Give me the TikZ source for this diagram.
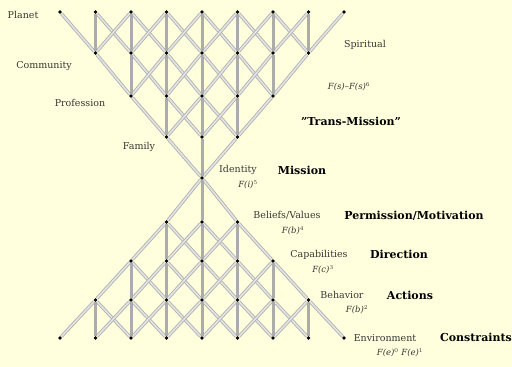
\documentclass[tikz,border=0pt]{standalone}
\usepackage{fontspec}
\setmainfont{DejaVu Serif}
\pgfdeclarelayer{back}
\pgfdeclarelayer{bg}
\pgfsetlayers{back,bg,main}
\definecolor{paper}{RGB}{255,255,221}
\definecolor{labelgray}{RGB}{55,55,55}
\tikzset{
  dot/.style={circle,fill=black,inner sep=0pt,minimum size=3.8pt},
  diag/.style={draw=gray!60,double=gray!20,double distance=1.5pt,line width=0.9pt},
  vert/.style={draw=gray!65,line width=3pt},
  lvl/.style={font=\fontsize{9.5}{11}\selectfont,text=labelgray,inner sep=0pt},
  frm/.style={font=\fontsize{8.5}{10}\itshape,text=labelgray,inner sep=0pt},
  role/.style={font=\fontsize{11}{13}\bfseries,text=black,inner sep=0pt}
}
\begin{document}
\begin{tikzpicture}[x=1pt,y=-1pt]
\begin{pgfonlayer}{back}
\fill[paper] (0,0) rectangle (512,367);
\end{pgfonlayer}
\useasboundingbox (0,0) rectangle (512,367);
% top (inverted) lattice
\foreach \r/\y in {0/12,1/53,2/96,3/137} {
  \pgfmathtruncatemacro\cmax{8-\r}
  \foreach \c in {\r,...,\cmax} {
    \node[dot] (t-\r-\c) at ({60+35.5*\c},\y) {};
  }
}
\node[dot,alias=b-0-4] (t-4-4) at (202,178) {};
% bottom lattice
\foreach \s/\y in {1/222,2/261,3/300,4/338} {
  \pgfmathtruncatemacro\cmin{4-\s}
  \pgfmathtruncatemacro\cmax{4+\s}
  \foreach \c in {\cmin,...,\cmax} {
    \node[dot] (b-\s-\c) at ({60+35.5*\c},\y) {};
  }
}
\begin{pgfonlayer}{bg}
% top diagonals
\foreach \r in {0,...,3} {
  \pgfmathtruncatemacro\cmax{8-\r}
  \pgfmathtruncatemacro\n{\r+1}
  \pgfmathtruncatemacro\nmax{7-\r}
  \foreach \c in {\r,...,\cmax} {
    \pgfmathtruncatemacro\cl{\c-1}
    \pgfmathtruncatemacro\cr{\c+1}
    \ifnum\cl<\n\else \draw[diag] (t-\r-\c) -- (t-\n-\cl); \fi
    \ifnum\cr>\nmax\else \draw[diag] (t-\r-\c) -- (t-\n-\cr); \fi
  }
}
% bottom diagonals
\foreach \s in {0,...,3} {
  \pgfmathtruncatemacro\cmin{4-\s}
  \pgfmathtruncatemacro\cmax{4+\s}
  \pgfmathtruncatemacro\n{\s+1}
  \foreach \c in {\cmin,...,\cmax} {
    \pgfmathtruncatemacro\cl{\c-1}
    \pgfmathtruncatemacro\cr{\c+1}
    \draw[diag] (b-\s-\c) -- (b-\n-\cl);
    \draw[diag] (b-\s-\c) -- (b-\n-\cr);
  }
}
% top verticals
\foreach \r in {0,...,3} {
  \pgfmathtruncatemacro\n{\r+1}
  \pgfmathtruncatemacro\nmax{7-\r}
  \foreach \c in {\n,...,\nmax} {
    \draw[vert] (t-\r-\c) -- (t-\n-\c);
  }
}
% bottom verticals
\foreach \s in {0,...,3} {
  \pgfmathtruncatemacro\cmin{4-\s}
  \pgfmathtruncatemacro\cmax{4+\s}
  \pgfmathtruncatemacro\n{\s+1}
  \foreach \c in {\cmin,...,\cmax} {
    \draw[vert] (b-\s-\c) -- (b-\n-\c);
  }
}
\end{pgfonlayer}
% left labels
\node[lvl] (planet) at (23,15) {Planet};
\node[lvl] (community) at (44,66) {Community};
\node[lvl] (profession) at (80,103) {Profession};
\node[lvl] (family) at (139,147) {Family};
% right labels
\node[lvl] (spiritual) at (365,45) {Spiritual};
\node[frm] (fspiritual) at (349,87) {F(s)–F(s)$^{6}$};
\node[role] (transmission) at (351,121) {\symbol{34}Trans-Mission\symbol{34}};
\node[lvl] (identity) at (238,170) {Identity};
\node[frm] (fidentity) at (248,185) {F(i)$^{5}$};
\node[role] (mission) at (302,170) {Mission};
\node[lvl] (beliefs) at (287,215) {Beliefs/Values};
\node[frm] (fbeliefs) at (293,231) {F(b)$^{4}$};
\node[role] (permission) at (414,216) {Permission/Motivation};
\node[lvl] (capabilities) at (319,255) {Capabilities};
\node[frm] (fcap) at (323,270) {F(c)$^{3}$};
\node[role] (direction) at (399,254) {Direction};
\node[lvl] (behavior) at (342,295) {Behavior};
\node[frm] (fbeh) at (357,310) {F(b)$^{2}$};
\node[role] (actions) at (410,295) {Actions};
\node[lvl] (environment) at (385,338) {Environment};
\node[frm] (fenv) at (400,353) {F(e)$^{0}$ F(e)$^{1}$};
\node[role] (constraints) at (476,337) {Constraints};
\end{tikzpicture}
\end{document}
